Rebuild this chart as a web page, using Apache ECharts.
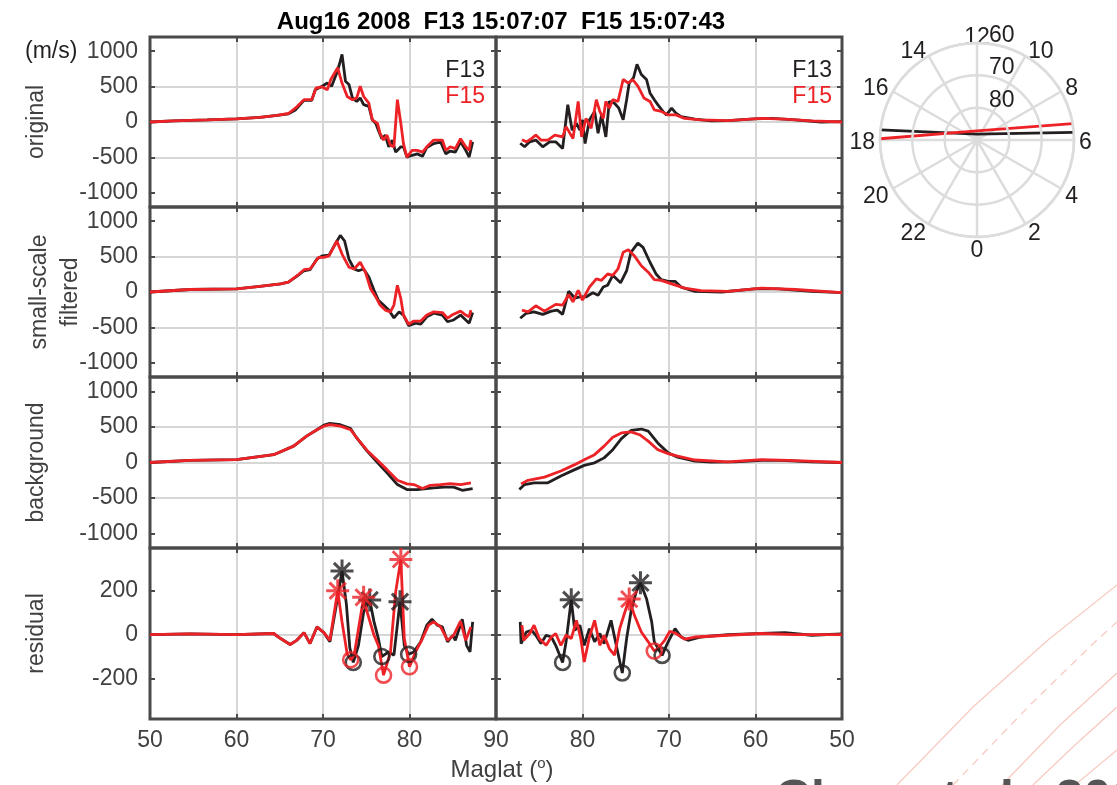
<!DOCTYPE html>
<html><head><meta charset="utf-8">
<script src="https://cdn.jsdelivr.net/npm/echarts@6/dist/echarts.min.js"></script>
<style>html,body{margin:0;padding:0;background:#fff}#c{width:1117px;height:785px}</style>
</head><body><div id="c"></div><script>
// ---------------- data ----------------
// Row 1: original  (left = pass 1, latitude increasing; right = pass 2, latitude decreasing)
const origL_F13_lat = [50.0,52.7,56.6,60.0,62.7,64.7,66.0,66.8,67.8,68.7,69.1,69.9,70.5,71.0,71.6,71.9,72.2,72.6,73.0,73.4,73.9,74.3,74.7,75.3,75.7,76.1,76.4,76.8,77.2,77.6,78.0,78.4,79.0,79.3,79.7,80.3,80.9,81.5,82.0,82.8,83.6,84.2,84.7,85.3,85.9,86.5,86.9,87.3];
const origL_F13 = [0,15,30,45,65,95,115,170,305,305,455,505,550,505,695,815,955,575,530,340,290,340,245,220,30,-20,-115,-235,-185,-350,-255,-425,-350,-350,-495,-470,-450,-485,-360,-305,-280,-450,-410,-425,-280,-400,-495,-280];
const origL_F15_lat = [50.0,52.7,56.6,60.0,62.7,64.7,66.0,66.8,67.8,68.7,69.2,69.9,70.5,70.9,71.7,72.2,72.8,73.4,73.9,74.3,74.7,75.3,75.7,76.3,76.6,77.0,77.4,77.8,78.2,78.6,79.0,79.3,79.7,80.3,80.9,81.5,82.0,82.8,83.8,84.2,84.7,85.3,85.9,86.5,86.9,87.1];
const origL_F15 = [0,15,30,45,65,95,120,195,315,315,480,495,455,600,765,550,360,315,340,505,360,265,30,-20,-160,-255,-185,-330,-350,315,-20,-305,-495,-400,-400,-425,-350,-255,-255,-400,-350,-375,-235,-350,-400,-255];
const origR_F13_lat = [87.2,86.7,86.1,85.4,84.6,83.8,83.1,82.3,81.7,81.2,80.7,80.3,80.0,79.7,79.2,78.6,78.2,77.8,77.3,76.9,76.3,75.8,75.3,74.9,74.6,74.1,73.7,73.2,72.6,72.2,71.7,71.3,70.7,70.3,69.7,69.2,68.6,67.0,65.1,63.2,60.1,58.1,55.4,52.4,50.0];
const origR_F13 = [-300,-350,-280,-255,-350,-280,-280,-375,245,-115,-20,-115,30,-305,30,150,-160,100,-210,290,265,195,30,315,550,625,815,670,600,410,315,245,150,100,195,125,75,40,15,20,45,50,30,0,5];
const origR_F15_lat = [87.0,86.5,85.9,85.4,84.8,84.0,83.2,82.3,81.9,81.1,80.5,80.1,79.6,79.0,78.4,78.0,77.6,77.3,76.9,76.5,75.9,75.3,74.7,74.2,73.6,72.9,72.2,71.7,70.9,70.1,69.2,68.2,66.3,63.2,59.3,56.6,53.5,50.0];
const origR_F15 = [-250,-280,-235,-185,-255,-255,-185,-210,-65,-235,290,-210,50,-90,315,150,50,290,195,315,290,600,550,600,505,340,290,170,150,100,100,50,30,20,50,40,15,0];

// Row 2: small-scale filtered
const filtL_F13_lat = [50,54.6,60.0,62.7,65.1,66.0,67.0,67.8,68.5,69.3,69.9,70.7,71.4,72.0,72.5,73.0,73.6,74.1,74.7,75.3,75.9,76.4,77.0,77.6,78.2,78.8,79.3,79.9,80.7,81.3,82.0,82.8,83.8,84.4,85.1,85.9,86.5,86.9,87.3];
const filtL_F13 = [0,35,45,80,115,140,225,300,315,465,510,520,675,800,720,465,325,300,325,210,25,-115,-185,-255,-365,-280,-325,-475,-440,-455,-350,-300,-325,-420,-395,-325,-395,-440,-290];
const filtL_F15_lat = [50,54.6,60.0,62.7,65.1,66.0,67.0,67.8,68.5,69.5,70.1,70.7,71.6,72.2,73.0,73.6,74.3,74.9,75.5,76.1,76.6,77.2,77.8,78.2,78.6,79.0,79.3,79.9,80.5,81.3,82.0,82.8,83.8,84.4,84.9,85.9,86.5,86.9,87.1];
const filtL_F15 = [0,35,45,80,115,140,230,315,325,490,490,510,720,535,350,325,420,280,45,-70,-185,-255,-280,-185,95,-95,-325,-455,-410,-410,-325,-280,-290,-370,-325,-270,-325,-350,-255];
const filtR_F13_lat = [87.2,86.5,85.6,84.6,83.6,82.9,82.3,81.6,80.9,80.3,79.6,78.8,78.2,77.6,77.1,76.5,75.6,74.9,74.4,73.6,73.0,72.2,71.5,70.9,70.1,69.3,68.6,67.0,63.9,60.1,57.4,53.5,50.0];
const filtR_F13 = [-370,-300,-280,-315,-270,-255,-315,10,-85,-70,-70,-10,-45,70,95,235,130,300,560,690,630,420,255,175,150,150,70,10,0,45,45,10,-10];
const filtR_F15_lat = [87.0,86.3,85.4,84.4,83.1,82.3,81.6,81.1,80.5,80.0,79.2,78.4,77.8,77.1,76.5,75.9,75.3,74.7,74.0,73.2,72.4,71.7,70.9,69.7,68.2,66.3,63.2,59.3,55.4,50.0];
const filtR_F15 = [-255,-280,-195,-270,-175,-185,-35,-140,25,-115,70,185,165,255,235,325,560,595,510,370,280,175,165,115,55,20,10,55,35,-10];

// Row 3: background
const bgL_F13_lat = [50,54.6,60.0,64.3,66.6,68.1,69.3,70.1,70.8,72.0,73.2,73.9,75.1,76.3,77.4,78.6,79.7,80.9,81.7,82.8,84.0,85.1,86.1,87.3];
const bgL_F13 = [0,30,40,110,230,370,460,525,550,530,475,345,160,0,-145,-310,-380,-380,-370,-355,-345,-345,-390,-365];
const bgL_F15_lat = [50,54.6,60.0,64.3,66.6,68.1,69.3,70.1,70.8,72.0,73.2,73.9,75.1,76.3,77.4,78.6,79.7,80.5,81.5,82.4,83.6,84.7,85.9,87.1];
const bgL_F15 = [0,30,40,110,230,370,460,510,530,510,460,345,170,30,-100,-250,-300,-310,-365,-320,-310,-295,-310,-285];
const bgR_F13_lat = [87.3,86.7,85.6,84.0,82.5,80.9,79.8,78.6,77.5,76.5,75.5,74.4,73.2,72.4,71.3,70.1,69.0,67.0,65.1,62.4,59.3,57.0,53.5,50.0];
const bgR_F13 = [-380,-310,-285,-285,-190,-100,-40,-5,65,180,335,450,470,440,275,135,75,20,5,10,30,30,10,0];
const bgR_F15_lat = [87.1,86.3,84.4,82.5,80.9,79.8,78.6,77.5,76.5,75.5,74.4,73.4,72.4,71.3,70.1,69.0,67.0,63.2,59.3,56.2,50.0];
const bgR_F15 = [-300,-250,-205,-120,-30,40,110,230,355,415,430,390,300,180,125,90,35,10,40,30,0];

// Row 4: residual
const resL_F13_lat = [50,54.6,60,64.3,65.1,66.2,67.0,67.8,68.5,69.3,70.1,70.8,71.4,72.2,72.7,73.1,73.5,74.1,74.7,75.4,75.9,76.4,76.8,77.6,78.2,78.9,79.4,79.9,80.5,81.3,82.0,82.6,83.2,83.8,84.4,85.0,85.3,86.1,86.6,87.0,87.3];
const resL_F13 = [0,3,0,5,-18,-45,-25,9,-41,35,9,-33,103,290,140,-60,-127,-49,103,158,58,-18,-100,-79,-94,150,-50,-90,-79,-33,43,70,43,35,-33,-3,-26,70,-49,-79,58];
const resL_F15_lat = [50,54.6,60,64.3,65.1,66.2,67.0,67.8,68.5,69.3,70.1,70.8,71.7,72.2,72.8,73.2,73.6,74.7,75.1,75.9,76.4,77.0,77.8,78.4,79.0,79.4,80.0,80.7,81.5,82.2,82.8,83.6,84.4,85.1,85.9,86.5,87.1];
const resL_F15 = [0,3,0,5,-18,-45,-25,9,-41,35,9,-26,200,58,-90,-115,-94,170,103,-3,-49,-185,-79,195,343,-18,-147,-79,-18,43,58,35,-26,-3,61,-26,35];
const resR_F13_lat = [87.2,87.1,86.5,85.9,85.4,84.8,84.2,83.6,83.1,82.3,81.9,81.3,80.9,80.3,79.8,79.2,78.6,78.0,77.5,76.7,76.1,75.4,74.9,74.4,73.8,73.3,72.6,72.0,71.7,70.8,70.1,69.3,68.6,67.8,66.3,63.2,59.3,56.6,53.5,50.0];
const resR_F13 = [58,-41,12,20,-3,-41,-3,-11,-49,-127,-33,159,20,43,-49,27,-33,5,-41,65,-49,-175,-18,103,195,236,164,58,-33,-95,-33,27,-11,-26,-11,0,5,9,-3,3];
const resR_F15_lat = [87.0,86.8,86.1,85.6,85.0,84.2,83.6,83.1,82.5,81.9,81.3,80.7,80.2,79.8,79.2,78.6,78.0,77.5,76.9,76.3,75.7,75.1,74.6,74.0,73.2,72.4,71.7,71.3,70.5,69.9,69.2,68.2,67.0,63.2,59.3,55.4,50.0];
const resR_F15 = [43,-26,5,43,-18,-49,-11,5,-49,-3,-18,65,-18,-125,-11,65,-49,-3,-64,-94,27,103,162,88,12,-33,-75,-64,-26,15,5,-21,-11,-3,5,0,0];

// residual peaks (*) and troughs (o)
const starL_F13_lat = [72.2,75.4,78.9],  starL_F13 = [290,158,150];
const ringL_F13_lat = [73.5,76.8,79.9],  ringL_F13 = [-127,-100,-90];
const starL_F15_lat = [71.7,74.7,79.0],  starL_F15 = [200,170,343];
const ringL_F15_lat = [73.2,77.0,80.0],  ringL_F15 = [-115,-185,-147];
const starR_F13_lat = [81.3,73.3],       starR_F13 = [159,236];
const ringR_F13_lat = [82.3,75.4,70.8],  ringR_F13 = [-127,-175,-95];
const starR_F15_lat = [74.6],            starR_F15 = [162];
const ringR_F15_lat = [71.7],            ringR_F15 = [-75];

// polar dial: satellite tracks (maglat, MLT)
const trackF13_lat = [60.0, 88.2, 60.0], trackF13_mlt = [17.6, 12.0, 6.3];
const trackF15_lat = [60.0, 87.2, 60.0], trackF15_mlt = [17.95, 12.0, 6.65];

const rowNames = ['original', 'small-scale\nfiltered', 'background', 'residual'];
const yTicksBig = [-1000, -500, 0, 500, 1000];
const yTicksRes = [-200, 0, 200];
const titleText = 'Aug16 2008  F13 15:07:07  F15 15:07:43';

// ---------------- layout / style ----------------
const FONT = '"Liberation Sans", Arial, Helvetica, sans-serif';
const TXT = '#404040', FRAME = '#4a4a4a', GRIDC = '#d6d6d6';
const C13 = '#231f20', C15 = '#ec2227';
const rowTop = [37, 207, 377, 548], rowH = [170, 170, 171, 171];
const colLeft = [150, 496], colW = 346;
const STAR = 'path://M8.7,0L11.3,0L11.3,20L8.7,20Z M0,8.7L20,8.7L20,11.3L0,11.3Z M3.85,2.01L17.99,16.15L16.15,17.99L2.01,3.85Z M17.99,3.85L3.85,17.99L2.01,16.15L16.15,2.01Z';

const pairs = (a, b) => a.map((x, i) => [x, b[i]]);
const panelData = [
  [origL_F13_lat, origL_F13, origL_F15_lat, origL_F15],
  [origR_F13_lat, origR_F13, origR_F15_lat, origR_F15],
  [filtL_F13_lat, filtL_F13, filtL_F15_lat, filtL_F15],
  [filtR_F13_lat, filtR_F13, filtR_F15_lat, filtR_F15],
  [bgL_F13_lat, bgL_F13, bgL_F15_lat, bgL_F15],
  [bgR_F13_lat, bgR_F13, bgR_F15_lat, bgR_F15],
  [resL_F13_lat, resL_F13, resL_F15_lat, resL_F15],
  [resR_F13_lat, resR_F13, resR_F15_lat, resR_F15]
];

const grid = [], xAxis = [], yAxis = [], series = [];
const tickStyle = {color: FRAME, width: 2};
for (let p = 0; p < 8; p++) {
  const row = p >> 1, col = p & 1;
  const isRes = row === 3;
  const ymin = isRes ? -385 : -1200, ymax = isRes ? 395 : 1200;
  const ticks = isRes ? yTicksRes : yTicksBig;
  grid.push({left: colLeft[col], top: rowTop[row], width: colW, height: rowH[row],
    show: true, borderColor: FRAME, borderWidth: 3, backgroundColor: 'transparent'});
  xAxis.push({gridIndex: p, type: 'value', min: 50, max: 90, interval: 10, inverse: col === 1,
    position: 'bottom', axisLine: {show: false, onZero: false},
    axisTick: {show: true, inside: true, length: 5, lineStyle: tickStyle},
    splitLine: {show: true, showMinLine: false, showMaxLine: false, lineStyle: {color: GRIDC, width: 2}},
    axisLabel: {show: row === 3, margin: 10, fontSize: 23, color: TXT, fontFamily: FONT,
      formatter: v => (col === 1 && v === 90) ? '' : String(v)}});
  yAxis.push({gridIndex: p, type: 'value', min: ymin, max: ymax, position: 'left',
    axisLine: {show: false, onZero: false},
    axisTick: {show: true, inside: true, length: 5, customValues: ticks, lineStyle: tickStyle},
    splitLine: {show: true, showMinLine: false, showMaxLine: false, lineStyle: {color: GRIDC, width: 2}},
    axisLabel: {show: col === 0, customValues: ticks, margin: 12, fontSize: 23, color: TXT, fontFamily: FONT,
      formatter: v => String(v)},
    name: col === 0 ? rowNames[row] : '', nameLocation: 'middle', nameRotate: 90, nameMoveOverlap: false,
    nameGap: row === 1 ? 64 : 98,
    nameTextStyle: {fontSize: 23, color: TXT, fontFamily: FONT, lineHeight: 31}});
}
// opposite-side tick marks (box)
for (let p = 0; p < 8; p++) {
  const row = p >> 1, col = p & 1;
  const isRes = row === 3;
  xAxis.push({gridIndex: p, type: 'value', min: 50, max: 90, interval: 10, inverse: col === 1,
    position: 'top', axisLine: {show: false, onZero: false}, axisLabel: {show: false}, splitLine: {show: false},
    axisTick: {show: true, inside: true, length: 5, lineStyle: tickStyle}});
  yAxis.push({gridIndex: p, type: 'value', min: isRes ? -385 : -1200, max: isRes ? 395 : 1200,
    position: 'right', axisLine: {show: false, onZero: false}, axisLabel: {show: false}, splitLine: {show: false},
    axisTick: {show: true, inside: true, length: 5, customValues: isRes ? yTicksRes : yTicksBig, lineStyle: tickStyle}});
}
for (let p = 0; p < 8; p++) {
  const d = panelData[p];
  series.push({type: 'line', xAxisIndex: p, yAxisIndex: p, data: pairs(d[0], d[1]), showSymbol: false,
    symbol: 'none', lineStyle: {color: C13, width: 2.8}, z: 2, animation: false});
  series.push({type: 'line', xAxisIndex: p, yAxisIndex: p, data: pairs(d[2], d[3]), showSymbol: false,
    symbol: 'none', lineStyle: {color: C15, width: 2.8}, z: 3, animation: false});
}
function markers(p, lat, val, color, isStar) {
  series.push({type: 'scatter', xAxisIndex: p, yAxisIndex: p, data: pairs(lat, val),
    symbol: isStar ? STAR : 'circle', symbolSize: isStar ? 23 : 15,
    itemStyle: isStar ? {color: color} : {color: 'transparent', borderColor: color, borderWidth: 2.6},
    z: 4, animation: false, silent: true});
}
markers(6, starL_F13_lat, starL_F13, C13, true);
markers(6, ringL_F13_lat, ringL_F13, C13, false);
markers(6, starL_F15_lat, starL_F15, C15, true);
markers(6, ringL_F15_lat, ringL_F15, C15, false);
markers(7, starR_F13_lat, starR_F13, C13, true);
markers(7, ringR_F13_lat, ringR_F13, C13, false);
markers(7, starR_F15_lat, starR_F15, C15, true);
markers(7, ringR_F15_lat, ringR_F15, C15, false);

// polar tracks (angle axis runs 12..36 so that 12 MLT is at the top)
const toAng = m => (m < 12 ? m + 24 : m);
series.push({type: 'line', coordinateSystem: 'polar', polarIndex: 0, showSymbol: false, symbol: 'none',
  data: trackF13_lat.map((r, i) => [r, toAng(trackF13_mlt[i])]), lineStyle: {color: C13, width: 2.8}, z: 3, animation: false});
series.push({type: 'line', coordinateSystem: 'polar', polarIndex: 0, showSymbol: false, symbol: 'none',
  data: trackF15_lat.map((r, i) => [r, toAng(trackF15_mlt[i])]), lineStyle: {color: C15, width: 2.8}, z: 4, animation: false});

const PG = '#dcdcdc';
const option = {
  backgroundColor: '#ffffff',
  animation: false,
  title: {text: titleText, left: 496, top: 5, textAlign: 'center',
    textStyle: {fontSize: 24, fontWeight: 'bold', color: '#000', fontFamily: FONT}},
  grid, xAxis, yAxis, series,
  polar: {center: [977, 140], radius: 97},
  angleAxis: {type: 'value', min: 12, max: 36, interval: 2, startAngle: 90, clockwise: false,
    axisLine: {show: true, lineStyle: {color: PG, width: 2.5}}, axisTick: {show: false},
    splitLine: {show: true, lineStyle: {color: PG, width: 2.5}},
    axisLabel: {margin: 5, lineHeight: 1, padding: [5, 0, 0, 0], fontSize: 23, color: C13, fontFamily: FONT,
      formatter: v => (v >= 36 ? '' : (v === 24 ? '{b|0}' : String(v % 24))),
      rich: {b: {fontSize: 23, color: C13, fontFamily: FONT, lineHeight: 1, padding: [6, 0, 0, 0]}}}},
  radiusAxis: {type: 'value', min: 60, max: 90, interval: 10, inverse: true,
    axisLine: {show: false}, axisTick: {show: false},
    splitLine: {show: true, lineStyle: {color: PG, width: 2.5}},
    axisLabel: {fontSize: 23, color: C13, fontFamily: FONT, margin: -12, align: 'left', verticalAlign: 'bottom',
      lineHeight: 15, formatter: v => (v === 90 ? '' : String(v))}, z: 5},
  graphic: [
    {type: 'text', z: 100, left: 25, top: 40, style: {text: '(m/s)', fontSize: 23, fill: C13, fontFamily: FONT}},
    {type: 'text', z: 100, x: 485, y: 71, style: {text: 'F13', fontSize: 23, fill: C13, fontFamily: FONT, align: 'right', verticalAlign: 'middle'}},
    {type: 'text', z: 100, x: 485, y: 97, style: {text: 'F15', fontSize: 23, fill: C15, fontFamily: FONT, align: 'right', verticalAlign: 'middle'}},
    {type: 'text', z: 100, x: 832, y: 71, style: {text: 'F13', fontSize: 23, fill: C13, fontFamily: FONT, align: 'right', verticalAlign: 'middle'}},
    {type: 'text', z: 100, x: 832, y: 97, style: {text: 'F15', fontSize: 23, fill: C15, fontFamily: FONT, align: 'right', verticalAlign: 'middle'}},
    {type: 'text', z: 100, x: 502, y: 770, style: {text: '{a|Maglat (}{s|o}{a|)}', align: 'center', verticalAlign: 'middle',
      rich: {a: {fontSize: 24, fill: TXT, fontFamily: FONT}, s: {fontSize: 15, fill: TXT, fontFamily: FONT, verticalAlign: 'top', padding: [0, 0, 12, 0]}}}},
    {type: 'polyline', silent: true, shape: {points: [[897,785],[973,707],[1048,640],[1117,585]]}, style: {stroke: '#f8cbc2', lineWidth: 1.3, fill: null}},
    {type: 'polyline', silent: true, shape: {points: [[953,785],[1030,705],[1097,640],[1117,622]]}, style: {stroke: '#f8cbc2', lineWidth: 1.3, fill: null, lineDash: [8, 6]}},
    {type: 'polyline', silent: true, shape: {points: [[1002,785],[1060,725],[1117,673]]}, style: {stroke: '#f8cbc2', lineWidth: 1.3, fill: null}},
    {type: 'polyline', silent: true, shape: {points: [[1033,785],[1075,745],[1117,707]]}, style: {stroke: '#f8cbc2', lineWidth: 1.3, fill: null}},
    {type: 'polyline', silent: true, shape: {points: [[1075,785],[1117,750]]}, style: {stroke: '#f8cbc2', lineWidth: 1.3, fill: null}},
    {type: 'text', x: 775, y: 776, z: 10, style: {text: 'Chen et al., 2016', fontSize: 50, fontWeight: 'bold', fill: '#555555', fontFamily: FONT}}
  ]
};
const chart = echarts.init(document.getElementById('c'), null, {renderer: 'canvas', width: 1117, height: 785});
chart.setOption(option);
</script></body></html>
